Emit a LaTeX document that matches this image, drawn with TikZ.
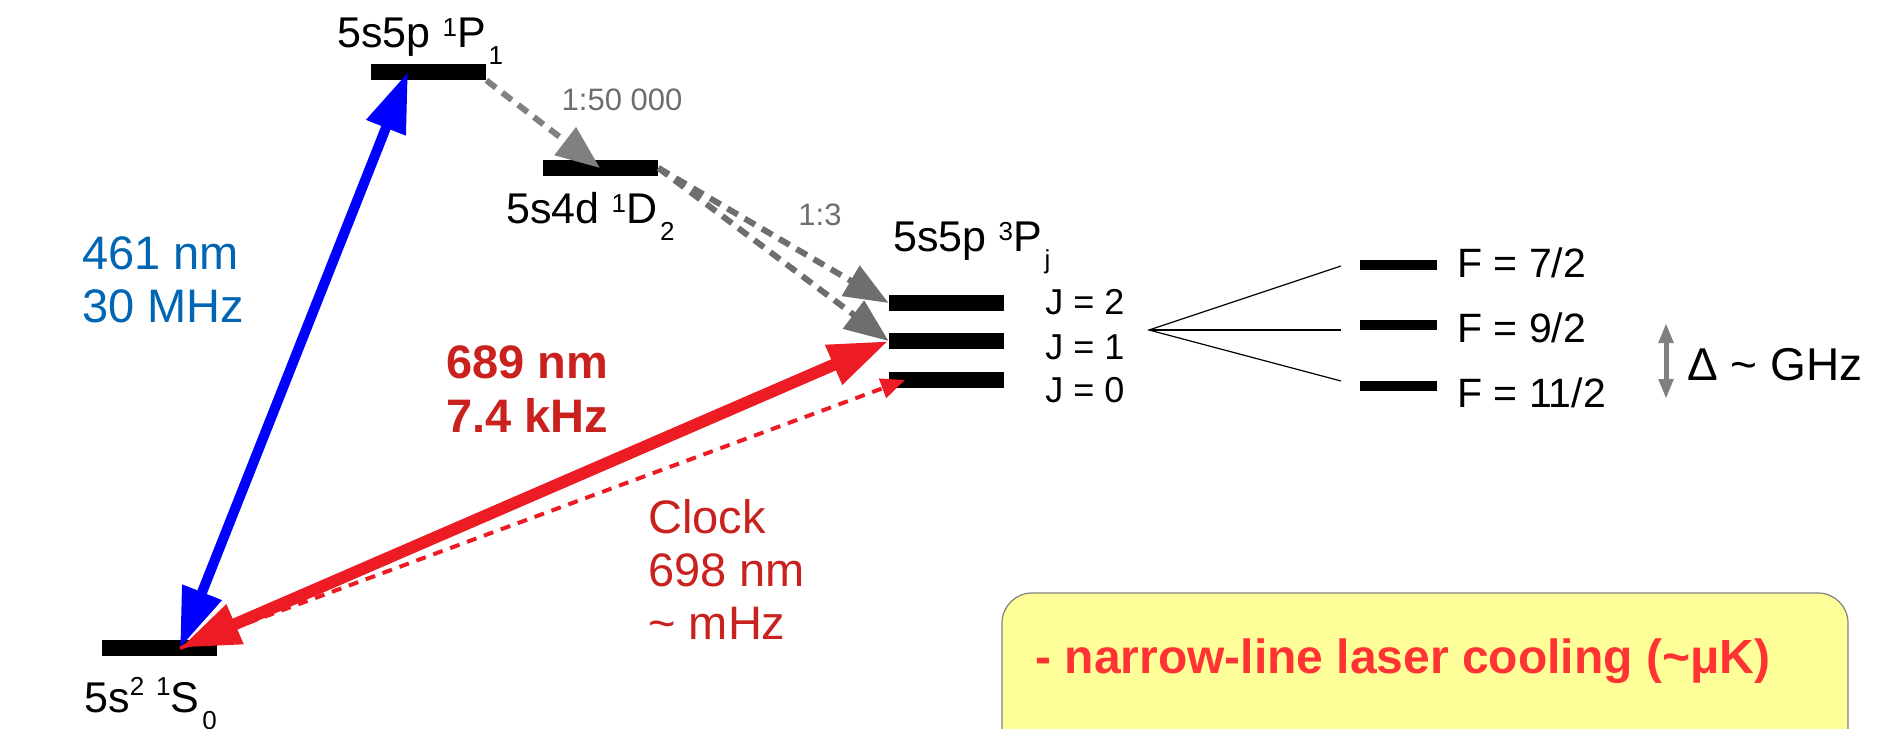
\documentclass[tikz,border=0pt]{standalone}
\usepackage{fontspec}
\setmainfont{Liberation Sans}
\usetikzlibrary{arrows.meta}
\definecolor{lineblue}{RGB}{0,0,255}
\definecolor{textblue}{RGB}{0,102,179}
\definecolor{linered}{RGB}{237,28,36}
\definecolor{textred}{RGB}{201,33,30}
\definecolor{boxred}{RGB}{255,51,51}
\definecolor{boxfill}{RGB}{255,255,153}
\definecolor{decaygray}{RGB}{110,110,110}
\definecolor{lightgray}{RGB}{128,128,128}
\newcommand{\hsup}[1]{\raisebox{5.5pt}{\fontsize{13}{13}\selectfont #1}}
\newcommand{\lsub}[1]{\kern1.5pt\raisebox{-8.5pt}{\fontsize{13}{13}\selectfont #1}}

\begin{document}
\begin{tikzpicture}[x=0.5pt, y=-0.5pt,
    lvl/.style = {fill=black, inner sep=0pt, minimum width=57.5pt, minimum height=8pt},
    hfs/.style = {fill=black, inner sep=0pt, minimum width=38.5pt, minimum height=5pt},
    termlab/.style = {font=\fontsize{21.5}{24}\selectfont, inner sep=0pt, anchor=base west},
    ratiolab/.style = {font=\fontsize{15.5}{18}\selectfont, text=decaygray, inner sep=0pt},
    jlab/.style = {font=\fontsize{18}{20}\selectfont, inner sep=0pt, anchor=base west},
    flab/.style = {font=\fontsize{20.5}{22}\selectfont, inner sep=0pt, anchor=base west},
    widehead/.tip = {Triangle[length=30pt, width=20pt]},
    decay/.style = {-{Triangle[length=22pt, width=17pt]}, line width=3pt, dash pattern=on 6pt off 4pt},
  ]
  \clip (0,0) rectangle (1882,728);

  \node[lvl] (p1) at (428.5,72) {};
  \node[lvl] (d2) at (600.5,168) {};
  \node[lvl] (s0) at (159.5,648) {};
  \node[lvl] (j2) at (946.5,303) {};
  \node[lvl] (j1) at (946.5,341) {};
  \node[lvl] (j0) at (946.5,380) {};
  \node[hfs] (f72) at (1398.5,265) {};
  \node[hfs] (f92) at (1398.5,325) {};
  \node[hfs] (f112) at (1398.5,386) {};

  \node[termlab] (p1lab) at (337,47) {5s5p \hsup{1}P\lsub{1}};
  \node[termlab] (d2lab) at (506,223) {5s4d \hsup{1}D\lsub{2}};
  \node[termlab] (plab) at (893,251) {5s5p \hsup{3}P\lsub{j}};
  \node[termlab] (s0lab) at (84,712) {5s\raisebox{3pt}{\hsup{2}} \raisebox{3pt}{\hsup{1}}S\lsub{0}};

  \node[jlab] (j2lab) at (1045,314) {J = 2};
  \node[jlab] (j1lab) at (1045,359) {J = 1};
  \node[jlab] (j0lab) at (1045,402) {J = 0};

  \node[flab] (f72lab) at (1457,277) {F = 7/2};
  \node[flab] (f92lab) at (1457,342) {F = 9/2};
  \node[flab] (f112lab) at (1457,407) {F = 11/2};

  \node[ratiolab] (r50k) at (622,100) {1:50 000};
  \node[ratiolab] (r3) at (820,215) {1:3};

  \node[font=\fontsize{23.5}{26.5}\selectfont, text=textblue, align=left, inner sep=0pt, anchor=west]
    (bluelab) at (82,280) {461 nm\\30 MHz};
  \node[font=\fontsize{23.5}{27}\selectfont\bfseries, text=textred, align=left, inner sep=0pt, anchor=west]
    (redlab) at (446,389) {689 nm\\7.4 kHz};
  \node[font=\fontsize{23.5}{26.5}\selectfont, text=textred, align=left, inner sep=0pt, anchor=west]
    (clocklab) at (648,569) {Clock\\698 nm\\\textasciitilde{} mHz};

  \node[font=\fontsize{23}{26}\selectfont, inner sep=0pt, anchor=west] (gap) at (1687,365) {Δ \textasciitilde{} GHz};

  \coordinate (s0hit) at (180,648);
  \coordinate (p1hit) at (408,72);
  \coordinate (d2hit) at (600,168);
  \coordinate (j0hit) at (905,380);
  \coordinate (fan) at (1149,330);
  \coordinate (fan72) at (1341,266);
  \coordinate (fan92) at (1341,330);
  \coordinate (fan112) at (1341,381);
  \coordinate (gaptop) at (1666,323);
  \coordinate (gapbot) at (1666,399);

  \draw[line width=0.6pt] (fan72) -- (fan) -- (fan112);
  \draw[line width=0.6pt] (fan) -- (fan92);

  \draw[decay, lightgray] (p1.south east) -- (d2hit);
  \draw[decay, decaygray] (d2.east) -- (j2.west);
  \draw[decay, decaygray] (d2.east) -- (j1.west);

  \draw[-{Triangle[length=12pt, width=10pt]}, linered, line width=2pt, dash pattern=on 5pt off 4pt] (s0hit) -- (j0hit);
  \draw[widehead-widehead, lineblue, line width=5pt] (s0hit) -- (p1hit);
  \draw[widehead-widehead, linered, line width=6pt] (s0hit) -- (j1.west);

  \draw[{Triangle[length=10pt, width=7pt]}-{Triangle[length=10pt, width=7pt]}, lightgray, line width=2.5pt] (gaptop) -- (gapbot);

  \draw[rounded corners=15pt, fill=boxfill, draw=lightgray, line width=0.6pt] (1002,593) rectangle (1848,800);
  \node[font=\fontsize{24}{27}\selectfont\bfseries, text=boxred, inner sep=0pt, anchor=west] (cooling) at (1035,661) {- narrow-line laser cooling (\textasciitilde μK)};
\end{tikzpicture}
\end{document}
